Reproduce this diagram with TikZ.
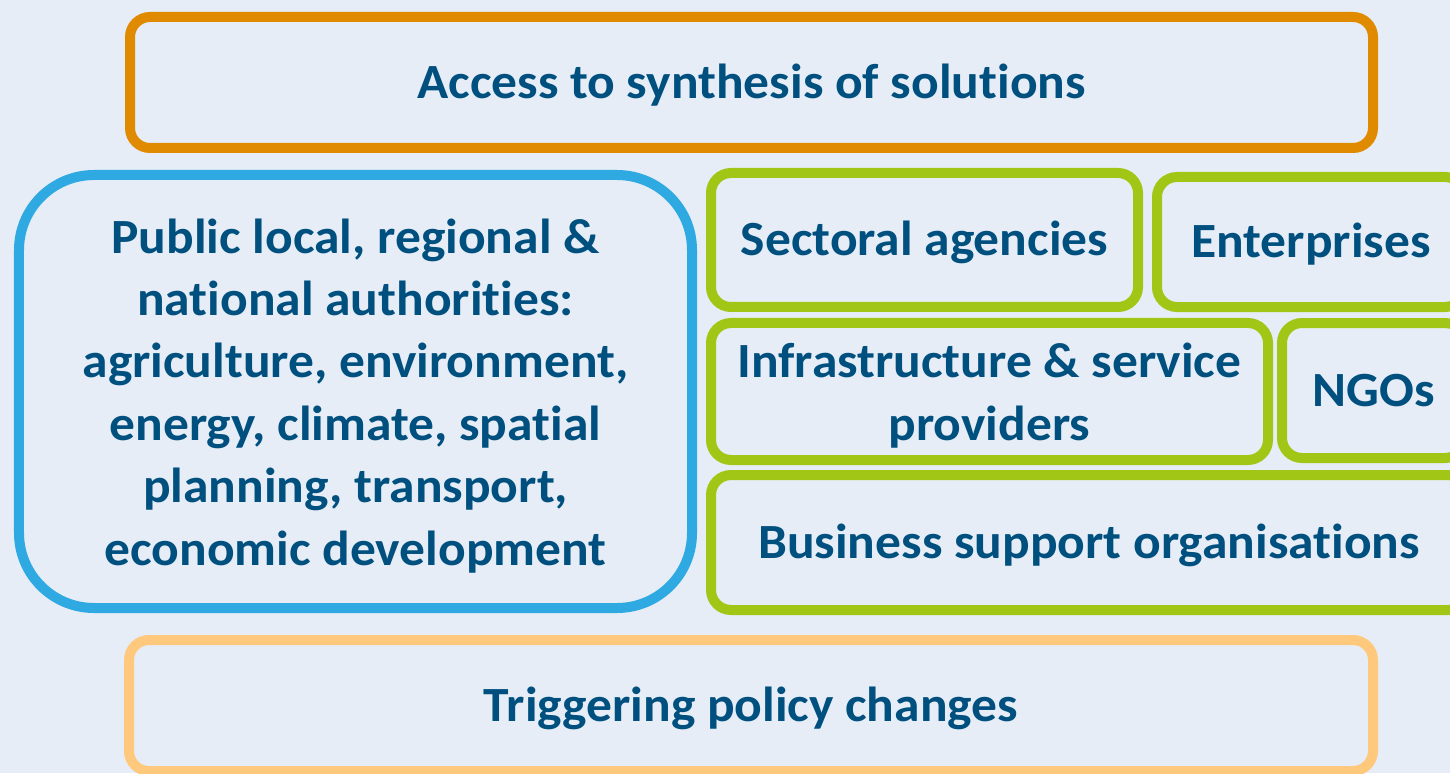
\documentclass[tikz,border=0pt]{standalone}
\usepackage{fontspec}
\setmainfont[Ligatures=NoCommon,FakeStretch=1.047]{Carlito}
\definecolor{bgblue}{HTML}{E6EDF6}
\definecolor{txtblue}{HTML}{00507F}
\definecolor{boxorange}{HTML}{E08A00}
\definecolor{boxblue}{HTML}{2FA9E1}
\definecolor{boxgreen}{HTML}{A2C616}
\definecolor{boxpeach}{HTML}{FFC97D}
\newcommand\topstrut{\rule{0pt}{28pt}}
\newcommand\botstrut{\rule[-8pt]{0pt}{8pt}}
\begin{document}
\begin{tikzpicture}[
		box/.style={draw,line width=.2cm,rounded corners=.4cm,text=txtblue,align=center,
			inner sep=0pt,font=\fontsize{28}{35.5}\selectfont\bfseries},
		oneline/.style={box,text height=26pt,text depth=8pt},
		greenbox/.style={oneline,draw=boxgreen}]
		\useasboundingbox (0,0) rectangle (29,15.46);
		\fill[bgblue] (0,0) rectangle (29,15.46);
		\clip (0,0) rectangle (29,15.46);
		\node[oneline,draw=boxorange,minimum width=24.86cm,minimum height=2.62cm] (access) at (15.03,13.81) {Access to synthesis of solutions};
		\node[box,draw=boxblue,rounded corners=1.5cm,minimum width=13.46cm,minimum height=8.66cm] (public) at (7.11,7.63)
			{\topstrut Public local, regional \&\\national authorities:\\agriculture, environment,\\energy, climate, spatial\\planning, transport,\\economic development\botstrut};
		\node[greenbox,minimum width=8.54cm,minimum height=2.68cm] (sectoral) at (18.49,10.66) {Sectoral agencies};
		\node[greenbox,minimum width=6.16cm,minimum height=2.6cm] (enterprises) at (26.22,10.62) {Enterprises};
		\node[box,draw=boxgreen,minimum width=11.14cm,minimum height=2.74cm] (infra) at (19.79,7.63) {\topstrut Infrastructure \& service\\providers\botstrut};
		\node[greenbox,minimum width=3.66cm,minimum height=2.7cm] (ngos) at (27.47,7.65) {NGOs};
		\node[greenbox,minimum width=15.12cm,minimum height=2.7cm] (business) at (21.78,4.61) {Business support organisations};
		\node[oneline,draw=boxpeach,minimum width=24.88cm,minimum height=2.62cm] (policy) at (15.02,1.35) {Triggering policy changes};
	\end{tikzpicture}
\end{document}
